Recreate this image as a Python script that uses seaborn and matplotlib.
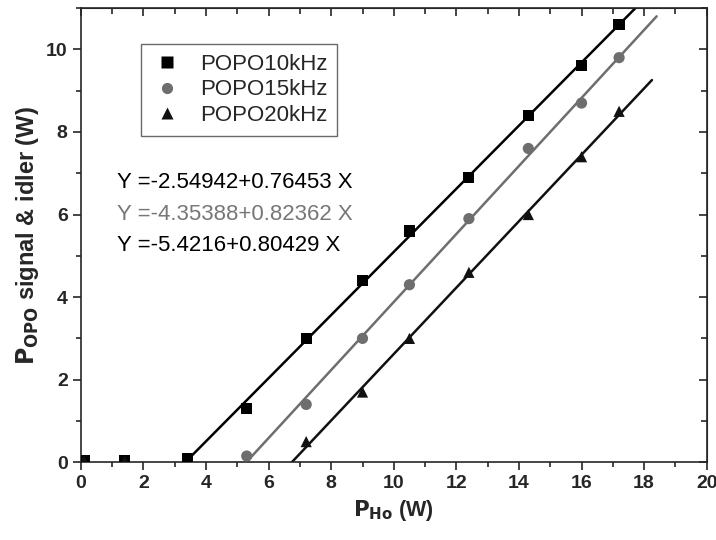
import matplotlib
matplotlib.use('Agg')
import matplotlib.pyplot as plt
from matplotlib.ticker import MultipleLocator
import seaborn as sns
import pandas as pd
import numpy as np

sns.set_style('ticks')
plt.rcParams['font.family'] = ['Liberation Sans', 'DejaVu Sans']

series = ['POPO10kHz', 'POPO15kHz', 'POPO20kHz']
colors = {'POPO10kHz': '#000000', 'POPO15kHz': '#6e6e6e', 'POPO20kHz': '#111111'}
markers = {'POPO10kHz': 's', 'POPO15kHz': 'o', 'POPO20kHz': '^'}

x10 = [0.1, 1.4, 3.4, 5.3, 7.2, 9.0, 10.5, 12.4, 14.3, 16.0, 17.2]
y10 = [0.03, 0.03, 0.08, 1.3, 3.0, 4.4, 5.6, 6.9, 8.4, 9.6, 10.6]
x15 = [5.3, 7.2, 9.0, 10.5, 12.4, 14.3, 16.0, 17.2]
y15 = [0.15, 1.4, 3.0, 4.3, 5.9, 7.6, 8.7, 9.8]
x20 = [0.1, 1.4, 7.2, 9.0, 10.5, 12.4, 14.3, 16.0, 17.2]
y20 = [0.03, 0.03, 0.5, 1.7, 3.0, 4.6, 6.0, 7.4, 8.5]

intercepts = [-2.54942, -4.35388, -5.4216]
slopes = [0.76453, 0.82362, 0.80429]
fit_end = [18.3, 18.4, 18.25]
eq_labels = ['Y =-2.54942+0.76453 X', 'Y =-4.35388+0.82362 X', 'Y =-5.4216+0.80429 X']

xticks = [0, 2, 4, 6, 8, 10, 12, 14, 16, 18, 20]
yticks = [0, 2, 4, 6, 8, 10]

df = pd.concat([
    pd.DataFrame({'x': x10, 'y': y10, 'series': series[0]}),
    pd.DataFrame({'x': x15, 'y': y15, 'series': series[1]}),
    pd.DataFrame({'x': x20, 'y': y20, 'series': series[2]}),
])

fig = plt.figure(figsize=(7.16, 5.4), dpi=100)
ax = fig.add_axes([0.113, 0.144, 0.874, 0.841])

# fit lines
for name, a, b, xe in zip(series, intercepts, slopes, fit_end):
    xs = np.array([-a / b, xe])
    sns.lineplot(x=xs, y=a + b * xs, color=colors[name], lw=1.8, ax=ax, legend=False)

sns.scatterplot(data=df, x='x', y='y', hue='series', style='series', palette=colors,
                markers=markers, s=65, edgecolor='none', ax=ax, zorder=3)

ax.set_xlim(0, 20)
ax.set_ylim(0, 11)
ax.set_xticks(xticks)
ax.set_xticklabels([str(t) for t in xticks], fontsize=14, fontweight='bold')
ax.set_yticks(yticks)
ax.set_yticklabels([str(t) for t in yticks], fontsize=14, fontweight='bold')
ax.xaxis.set_minor_locator(MultipleLocator(1))
ax.yaxis.set_minor_locator(MultipleLocator(1))
ax.tick_params(which='both', direction='out', top=False, right=False, width=1.2)
ax.tick_params(which='major', length=6)
ax.tick_params(which='minor', length=3.5)
for sp in ax.spines.values():
    sp.set_linewidth(1.2)
    sp.set_visible(True)

# mirrored inward ticks on top/right
sec_x = ax.secondary_xaxis('top')
sec_x.xaxis.set_major_locator(MultipleLocator(2))
sec_x.xaxis.set_minor_locator(MultipleLocator(1))
sec_x.tick_params(which='both', direction='in', labeltop=False, width=1.2)
sec_x.tick_params(which='major', length=6)
sec_x.tick_params(which='minor', length=4)
sec_y = ax.secondary_yaxis('right')
sec_y.yaxis.set_major_locator(MultipleLocator(2))
sec_y.yaxis.set_minor_locator(MultipleLocator(1))
sec_y.tick_params(which='both', direction='in', labelright=False, width=1.2)
sec_y.tick_params(which='major', length=6)
sec_y.tick_params(which='minor', length=4)

ax.set_xlabel(r'$\mathbf{P}_{\mathbf{Ho}}$ (W)', fontsize=15.5, fontweight='bold', labelpad=4)
ax.set_ylabel(r'$\mathbf{P}_{\mathbf{OPO}}$ signal & idler (W)', fontsize=17, fontweight='bold', labelpad=4)

eq_colors = ['#000000', '#777777', '#000000']
for i, (txt, c) in enumerate(zip(eq_labels, eq_colors)):
    ax.text(1.15, 6.78 - 0.77 * i, txt, color=c, fontsize=16, va='center', ha='left')

leg = ax.legend(loc='upper left', bbox_to_anchor=(0.096, 0.921), fontsize=16,
                frameon=True, fancybox=False, edgecolor='#444444', title=None,
                handlelength=1.4, handletextpad=0.8, borderpad=0.45,
                labelspacing=0.2, borderaxespad=0)
leg.get_frame().set_linewidth(1.0)

fig.savefig('out.png', dpi=100)
